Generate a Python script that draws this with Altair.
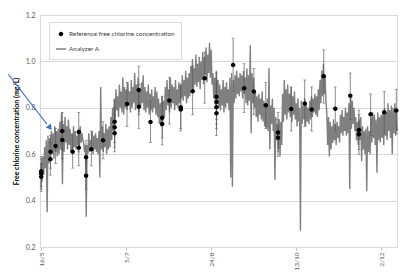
import altair as alt
import pandas as pd

# Analyzer A: daily high (at day d) and low (at day d + 0.5), days since 16/5
HI = [0.56, 0.59, 0.63, 0.66, 0.68, 0.67, 0.70, 0.69, 0.72, 0.70,
      0.71, 0.74, 0.78, 0.73, 0.76, 0.72, 0.75, 0.71, 0.69, 0.72,
      0.70, 0.68, 0.71, 0.72, 0.69, 0.65, 0.64, 0.64, 0.69, 0.66,
      0.70, 0.68, 0.69, 0.67, 0.70, 0.89, 0.72, 0.69, 0.73, 0.71,
      0.72, 0.76, 0.80, 0.84, 0.88, 0.85, 0.90, 0.87, 0.93, 0.89,
      0.88, 0.91, 0.87, 0.92, 0.89, 0.95, 0.90, 0.93, 0.88, 0.91,
      0.94, 0.89, 0.87, 0.90, 0.86, 0.88, 0.85, 0.89, 0.87, 0.84,
      0.82, 0.85, 0.83, 0.89, 0.92, 0.88, 0.93, 0.90, 0.89, 0.92,
      0.88, 0.91, 0.90, 0.94, 0.92, 0.96, 0.93, 0.95, 0.98, 1.01,
      0.97, 1.03, 0.99, 1.02, 1.00, 1.04, 1.02, 1.06, 1.03, 1.08,
      1.05, 0.95, 0.93, 0.96, 0.92, 0.90, 0.88, 0.92, 0.89, 0.91,
      0.88, 0.93, 0.95, 0.92, 0.94, 0.96, 0.93, 0.95, 0.94, 0.96,
      0.93, 0.97, 0.94, 1.07, 0.95, 0.93, 0.87, 0.85, 0.86, 0.84,
      0.87, 0.83, 0.82, 0.84, 0.97, 0.81, 0.84, 0.80, 0.76, 0.73,
      0.75, 0.74, 0.86, 0.92, 0.88, 0.90, 0.86, 0.89, 0.85, 0.87,
      0.82, 0.84, 0.80, 0.83, 0.81, 0.84, 0.82, 0.80, 0.83, 0.85,
      0.84, 0.86, 0.85, 0.88, 0.92, 0.96, 0.99, 0.94, 0.78, 0.76,
      0.74, 0.72, 0.75, 0.73, 0.74, 0.72, 0.77, 0.79, 0.76, 0.80,
      0.78, 0.82, 0.86, 0.83, 0.80, 0.76, 0.74, 0.75, 0.76, 0.72,
      0.70, 0.71, 0.72, 0.70, 0.76, 0.78, 0.77, 0.75, 0.78, 0.76,
      0.77, 0.78, 0.80, 0.78, 0.82, 0.79, 0.81, 0.80, 0.82, 0.79]
LO = [0.48, 0.51, 0.54, 0.35, 0.56, 0.58, 0.60, 0.58, 0.61, 0.59,
      0.60, 0.62, 0.47, 0.61, 0.65, 0.62, 0.64, 0.61, 0.60, 0.63,
      0.62, 0.64, 0.63, 0.65, 0.66, 0.61, 0.33, 0.60, 0.61, 0.63,
      0.60, 0.62, 0.61, 0.60, 0.50, 0.62, 0.61, 0.63, 0.60, 0.62,
      0.63, 0.66, 0.70, 0.75, 0.79, 0.76, 0.80, 0.78, 0.77, 0.80,
      0.79, 0.81, 0.78, 0.80, 0.82, 0.79, 0.81, 0.78, 0.80, 0.82,
      0.79, 0.78, 0.80, 0.77, 0.79, 0.78, 0.80, 0.77, 0.76, 0.73,
      0.72, 0.74, 0.76, 0.79, 0.81, 0.78, 0.80, 0.82, 0.79, 0.81,
      0.80, 0.82, 0.84, 0.83, 0.85, 0.82, 0.84, 0.85, 0.88, 0.87,
      0.90, 0.89, 0.91, 0.88, 0.92, 0.90, 0.94, 0.91, 0.95, 0.93,
      0.90, 0.84, 0.81, 0.83, 0.80, 0.79, 0.81, 0.78, 0.80, 0.82,
      0.79, 0.50, 0.46, 0.82, 0.84, 0.86, 0.85, 0.87, 0.84, 0.86,
      0.82, 0.81, 0.83, 0.69, 0.82, 0.80, 0.76, 0.74, 0.77, 0.75,
      0.74, 0.72, 0.71, 0.70, 0.62, 0.73, 0.70, 0.49, 0.66, 0.62,
      0.59, 0.64, 0.74, 0.77, 0.75, 0.78, 0.76, 0.74, 0.77, 0.75,
      0.72, 0.74, 0.27, 0.73, 0.75, 0.72, 0.74, 0.73, 0.75, 0.76,
      0.78, 0.77, 0.76, 0.79, 0.82, 0.85, 0.86, 0.83, 0.64, 0.59,
      0.62, 0.65, 0.66, 0.64, 0.67, 0.65, 0.69, 0.68, 0.70, 0.68,
      0.69, 0.45, 0.71, 0.73, 0.70, 0.66, 0.64, 0.66, 0.57, 0.62,
      0.60, 0.44, 0.61, 0.60, 0.65, 0.67, 0.64, 0.52, 0.66, 0.65,
      0.67, 0.64, 0.68, 0.66, 0.70, 0.67, 0.60, 0.69, 0.68, 0.70]

# Reference free chlorine concentration samples
REF_DAY = [0, 0, 0, 5.5, 5.4, 8.5, 12.4, 12.4, 18.5, 22.1, 22.1, 26.4, 26.4, 29.5,
           36.4, 43.2, 43.2, 43.2, 50.5, 57.4, 57.4, 64.3, 71.2, 71.2, 75.4, 82.1,
           82.1, 89.1, 96.2, 103.1, 103.1, 103.1, 103.1, 112.9, 119.4, 125.1, 132.1,
           139.3, 139.3, 147.1, 155.0, 159.1, 166.2, 173.0, 181.8, 186.9, 186.9,
           193.8, 201.8, 208.9]
REF_VAL = [0.527, 0.517, 0.503, 0.611, 0.578, 0.635, 0.661, 0.700, 0.611, 0.628,
           0.696, 0.587, 0.507, 0.621, 0.660, 0.740, 0.716, 0.690, 0.816, 0.877,
           0.805, 0.739, 0.757, 0.730, 0.832, 0.802, 0.793, 0.871, 0.927, 0.848,
           0.825, 0.802, 0.776, 0.984, 0.884, 0.870, 0.811, 0.694, 0.671, 0.795,
           0.818, 0.793, 0.936, 0.796, 0.852, 0.704, 0.686, 0.772, 0.781, 0.788]
ERR_LO = [0.46, 0.45, 0.44, 0.54, 0.51, 0.56, 0.58, 0.62, 0.54, 0.55, 0.61, 0.52,
          0.45, 0.55, 0.58, 0.65, 0.63, 0.61, 0.72, 0.77, 0.71, 0.65, 0.67, 0.64,
          0.73, 0.71, 0.70, 0.77, 0.82, 0.75, 0.73, 0.71, 0.68, 0.87, 0.78, 0.77,
          0.71, 0.61, 0.59, 0.70, 0.72, 0.70, 0.82, 0.70, 0.75, 0.62, 0.60, 0.68,
          0.69, 0.69]
ERR_HI = [0.59, 0.58, 0.56, 0.68, 0.65, 0.71, 0.74, 0.78, 0.68, 0.70, 0.78, 0.66,
          0.57, 0.70, 0.74, 0.83, 0.80, 0.77, 0.91, 0.98, 0.90, 0.83, 0.85, 0.82,
          0.93, 0.90, 0.89, 0.98, 1.04, 0.95, 0.92, 0.90, 0.87, 1.10, 0.99, 0.97,
          0.91, 0.78, 0.75, 0.89, 0.92, 0.89, 1.05, 0.89, 0.95, 0.79, 0.77, 0.86,
          0.87, 0.88]

TICK_DAYS = [0, 50, 100, 150, 200]
TICK_LABELS = ["16/5", "5/7", "24/8", "13/10", "2/12"]
Y_TICKS = [0.2, 0.3, 0.4, 0.5, 0.6, 0.7, 0.8, 0.9, 1.0, 1.1, 1.2]
SERIES = ["Reference free chlorine concentration", "Analyzer A"]

# annotation arrow (outside the plot, pointing at the early data)
ARROW_DAY = [-19.3, 3.4]
ARROW_VAL = [0.944, 0.730]
ARROW_HEAD_DAY = [5.2]
ARROW_HEAD_VAL = [0.714]

FONT = "Lato"
GRID = "#d9d9d9"

line_rows = []
for d, (h, l) in enumerate(zip(HI, LO)):
    line_rows.append({"day": d, "conc": h})
    line_rows.append({"day": d + 0.5, "conc": l})
line_df = pd.DataFrame(line_rows)

ref_df = pd.DataFrame({"day": REF_DAY, "conc": REF_VAL, "lo": ERR_LO, "hi": ERR_HI,
                       "series": SERIES[0]})
arrow_df = pd.DataFrame({"day": ARROW_DAY, "conc": ARROW_VAL})
head_df = pd.DataFrame({"day": ARROW_HEAD_DAY, "conc": ARROW_HEAD_VAL})

label_map = "{" + ",".join(f"'{d}':'{t}'" for d, t in zip(TICK_DAYS, TICK_LABELS)) + "}"

x_scale = alt.Scale(domain=[-0.7, 209.3], nice=False, zero=False)
y_scale = alt.Scale(domain=[0.2, 1.2], nice=False, zero=False)

x_enc = alt.X("day:Q", scale=x_scale,
              axis=alt.Axis(values=TICK_DAYS, labelExpr=label_map + "[datum.value]",
                            labelAngle=-90, grid=False, domainColor=GRID,
                            tickColor="#bfbfbf", tickSize=3, labelPadding=2,
                            labelFont=FONT, labelFontSize=6.5, labelColor="#595959",
                            title=None))
y_enc = alt.Y("conc:Q", scale=y_scale,
              axis=alt.Axis(values=Y_TICKS, format=".1f", grid=True, gridColor=GRID,
                            domainColor=GRID, ticks=False, labelPadding=5,
                            labelFont=FONT, labelFontSize=7, labelColor="#595959",
                            title="Free chlorine concentration (mg/L)",
                            titleFont=FONT, titleFontSize=7, titleFontWeight="bold",
                            titleColor="#000000", titlePadding=6))

analyzer = alt.Chart(line_df).mark_line(color="#808080", strokeWidth=1.4).encode(
    x=x_enc, y=y_enc)

err_rule = alt.Chart(ref_df).mark_rule(color="#595959", strokeWidth=0.7).encode(
    x="day:Q", y="lo:Q", y2="hi:Q")
cap_lo = alt.Chart(ref_df).mark_tick(orient="horizontal", size=3, thickness=0.7,
                                     color="#595959").encode(x="day:Q", y="lo:Q")
cap_hi = alt.Chart(ref_df).mark_tick(orient="horizontal", size=3, thickness=0.7,
                                     color="#595959").encode(x="day:Q", y="hi:Q")

CIRCLE_PATH = "M -0.45 0 A 0.45 0.45 0 1 0 0.45 0 A 0.45 0.45 0 1 0 -0.45 0 Z"
LINE_PATH = "M -1 0 L 1 0"

legend = alt.Legend(title=None, orient="none", legendX=9, legendY=7, padding=6,
                    fillColor="white", strokeColor=GRID, labelFont=FONT,
                    labelFontSize=6.4, labelColor="#404040", symbolSize=100,
                    symbolStrokeWidth=1.5, rowPadding=3, labelOffset=2)

points = alt.Chart(ref_df).mark_point(filled=True, size=100, opacity=1,
                                      strokeWidth=1.5).encode(
    x="day:Q", y="conc:Q",
    fill=alt.Fill("series:N", scale=alt.Scale(domain=SERIES, range=["#000000", "#808080"]),
                  legend=legend),
    stroke=alt.Stroke("series:N", scale=alt.Scale(domain=SERIES,
                                                  range=["transparent", "#808080"]),
                      legend=legend),
    shape=alt.Shape("series:N", scale=alt.Scale(domain=SERIES,
                                                range=[CIRCLE_PATH, LINE_PATH]),
                    legend=legend),
)

arrow = alt.Chart(arrow_df).mark_line(color="#4472c4", strokeWidth=1.1).encode(
    x="day:Q", y="conc:Q")
head = alt.Chart(head_df).mark_point(shape="triangle-up", filled=True, size=45,
                                     angle=141.6, color="#4472c4", opacity=1).encode(
    x="day:Q", y="conc:Q")

chart = alt.layer(analyzer, err_rule, cap_lo, cap_hi, points, arrow, head).properties(
    width=357, height=232,
    autosize=alt.AutoSizeParams(type="none"),
    padding={"left": 32, "top": 7, "right": 6, "bottom": 26},
).configure_view(stroke=None).configure(background="white")

chart.save("out.html", embed_options={"renderer": "svg", "actions": False})
